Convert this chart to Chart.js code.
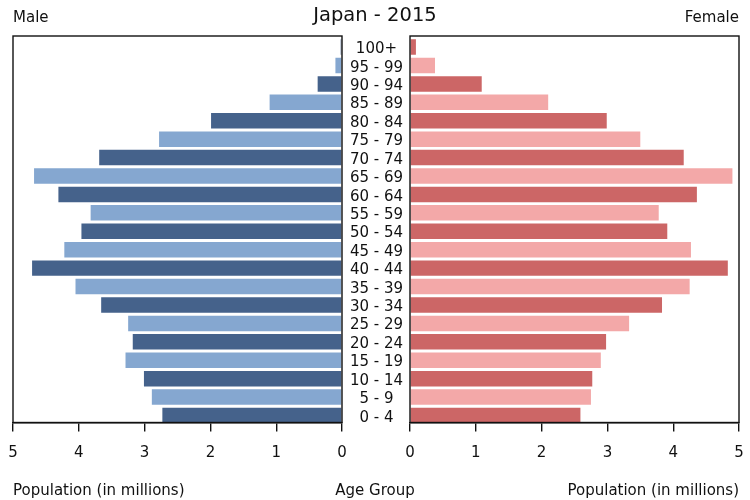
<!DOCTYPE html>
<html>
<head>
<meta charset="utf-8">
<script src="https://cdn.jsdelivr.net/npm/chart.js@4/dist/chart.umd.min.js"></script>
<style>
  html, body { margin: 0; padding: 0; background: #fff; }
  .wrap { position: absolute; left: 0; top: 0; width: 750px; height: 500px; }
</style>
</head>
<body>
<div class="wrap"><canvas id="male"></canvas></div>
<div class="wrap"><canvas id="female"></canvas></div>
<script>
const ageGroups = ["100+", "95 - 99", "90 - 94", "85 - 89", "80 - 84", "75 - 79", "70 - 74",
  "65 - 69", "60 - 64", "55 - 59", "50 - 54", "45 - 49", "40 - 44", "35 - 39",
  "30 - 34", "25 - 29", "20 - 24", "15 - 19", "10 - 14", "5 - 9", "0 - 4"];
const maleValues = [0.02, 0.10, 0.37, 1.10, 1.99, 2.78, 3.69, 4.68, 4.31, 3.82, 3.96,
  4.22, 4.71, 4.05, 3.66, 3.25, 3.18, 3.29, 3.01, 2.89, 2.73];
const femaleValues = [0.09, 0.38, 1.09, 2.10, 2.99, 3.50, 4.16, 4.90, 4.36, 3.78, 3.91,
  4.27, 4.83, 4.25, 3.83, 3.33, 2.98, 2.90, 2.77, 2.75, 2.59];
const xTicks = [0, 1, 2, 3, 4, 5];
const chartTitle = "Japan - 2015";
const maleLabel = "Male";
const femaleLabel = "Female";
const xAxisTitle = "Population (in millions)";
const ageAxisTitle = "Age Group";

const FONT = "'DejaVu Sans', sans-serif";
const maleColors = ageGroups.map((_, i) => i % 2 === 0 ? "#45628b" : "#85a7d0");
const femaleColors = ageGroups.map((_, i) => i % 2 === 0 ? "#cc6666" : "#f3a8a8");
const toPoints = vals => vals.map((v, i) => ({ x: v, y: i }));
const LABEL_SHIFT = 0.12; // age labels sit slightly below bar centres, as in the reference

const framePlugin = {
  id: "frame",
  afterDraw(chart) {
    const a = chart.chartArea, ctx = chart.ctx;
    ctx.save();
    ctx.strokeStyle = "#111";
    ctx.lineWidth = 1.4;
    ctx.strokeRect(a.left, a.top, a.right - a.left, a.bottom - a.top);
    ctx.restore();
  }
};

const textPlugin = {
  id: "texts",
  afterDraw(chart) {
    const ctx = chart.ctx, W = chart.width;
    ctx.save();
    ctx.fillStyle = "#111";
    ctx.textBaseline = "middle";
    ctx.font = "19.5px " + FONT;
    ctx.textAlign = "center";
    ctx.fillText(chartTitle, W / 2, 16);
    ctx.font = "15px " + FONT;
    ctx.textAlign = "left";
    ctx.fillText(maleLabel, 13, 18);
    ctx.fillText(xAxisTitle, 13, 491);
    ctx.textAlign = "right";
    ctx.fillText(femaleLabel, 739, 18);
    ctx.fillText(xAxisTitle, 739, 491);
    ctx.textAlign = "center";
    ctx.fillText(ageAxisTitle, W / 2, 491);
    ctx.restore();
  }
};

function xScale(reverse) {
  return {
    type: "linear",
    position: "bottom",
    min: 0, max: 5,
    reverse: reverse,
    afterBuildTicks: s => { s.ticks = xTicks.map(v => ({ value: v })); },
    afterFit: s => { s.height = 77.5; s.paddingLeft = 0; s.paddingRight = 0; },
    grid: { drawOnChartArea: false, drawTicks: true, tickLength: 9, color: "#111", lineWidth: 1.4 },
    border: { display: true, color: "#111", width: 1.4 },
    ticks: { color: "#111", font: { family: FONT, size: 15 }, padding: 13, maxRotation: 0 }
  };
}

function yScale(show) {
  return {
    type: "linear",
    position: "left",
    display: show,
    reverse: true,
    offset: false,
    min: -0.6, max: 20.38,
    afterBuildTicks: s => { s.ticks = ageGroups.map((_, i) => ({ value: i + LABEL_SHIFT })); },
    afterFit: s => { if (show) s.width = 68; s.paddingTop = 0; s.paddingBottom = 0; },
    grid: { display: false, drawTicks: false, offset: false },
    border: { display: false },
    ticks: {
      color: "#111", font: { family: FONT, size: 15 }, crossAlign: "center", padding: 7,
      autoSkip: false, callback: v => ageGroups[Math.round(v)]
    }
  };
}

Chart.defaults.animation = false;

new Chart(document.getElementById("male"), {
  type: "bar",
  data: {
    datasets: [{ label: maleLabel, data: toPoints(maleValues), backgroundColor: maleColors,
      borderWidth: 0, barPercentage: 0.84, categoryPercentage: 1.0 }]
  },
  options: {
    indexAxis: "y",
    responsive: true,
    maintainAspectRatio: false,
    layout: { padding: { left: 13, right: 408, top: 36, bottom: 0 } },
    plugins: { legend: { display: false }, tooltip: { enabled: false }, title: { display: false } },
    scales: { x: xScale(true), y: yScale(false) }
  },
  plugins: [framePlugin]
});

new Chart(document.getElementById("female"), {
  type: "bar",
  data: {
    datasets: [{ label: femaleLabel, data: toPoints(femaleValues), backgroundColor: femaleColors,
      borderWidth: 0, barPercentage: 0.84, categoryPercentage: 1.0 }]
  },
  options: {
    indexAxis: "y",
    responsive: true,
    maintainAspectRatio: false,
    layout: { padding: { left: 342, right: 11, top: 36, bottom: 0 } },
    plugins: { legend: { display: false }, tooltip: { enabled: false }, title: { display: false } },
    scales: { x: xScale(false), y: yScale(true) }
  },
  plugins: [framePlugin, textPlugin]
});
</script>
</body>
</html>
